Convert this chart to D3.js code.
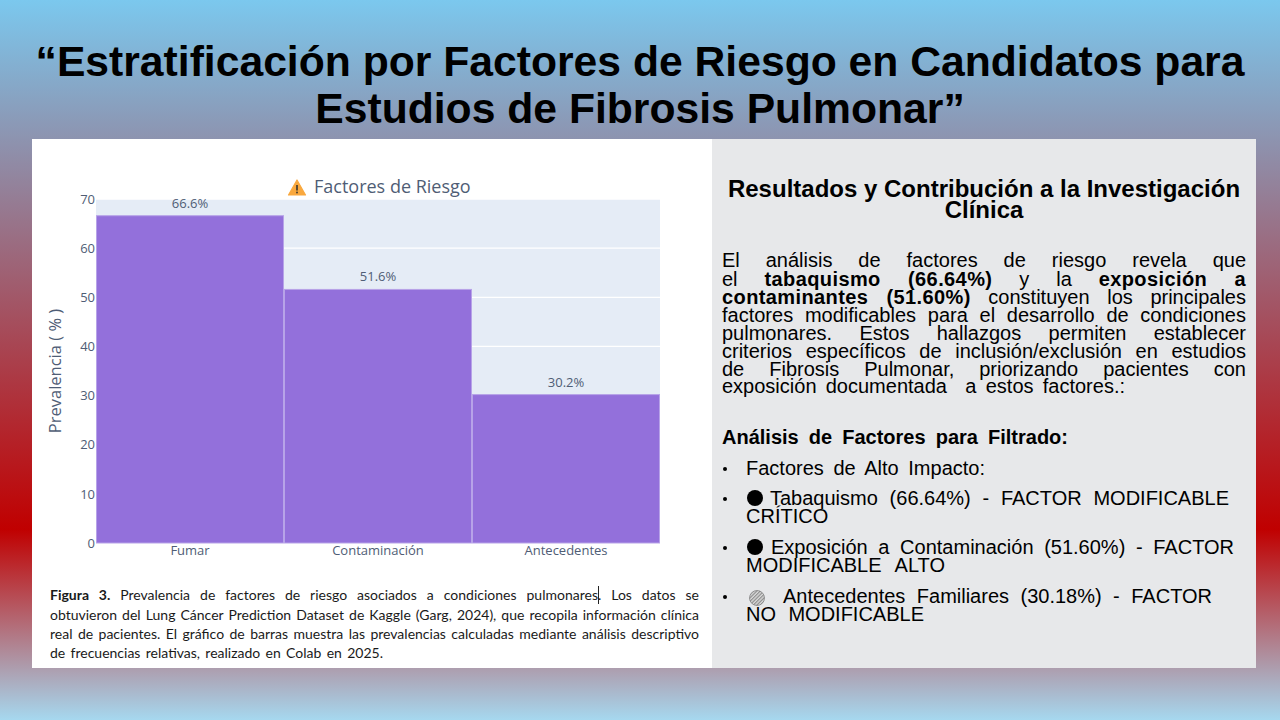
<!DOCTYPE html>
<html><head><meta charset="utf-8">
<script src="https://cdn.jsdelivr.net/npm/d3@7/dist/d3.min.js"></script>
<style>html,body{margin:0;padding:0;background:#fff}svg{display:block}</style>
</head><body><svg id="c" width="1280" height="720"></svg>
<script>
const categories = ["Fumar", "Contaminación", "Antecedentes"];
const prevalence = [66.6, 51.6, 30.2];
const barLabels = ["66.6%", "51.6%", "30.2%"];
const yTicks = [0, 10, 20, 30, 40, 50, 60, 70];
const slideTitle = ["“Estratificación por Factores de Riesgo en Candidatos para", "Estudios de Fibrosis Pulmonar”"];
const chartTitle = "Factores de Riesgo";
const yAxisTitle = "Prevalencia ( % )";
const sideHeading = ["Resultados y Contribución a la Investigación", "Clínica"];
const paragraph = [
  [["El análisis de factores de riesgo revela que",0]],
  [["el ",0],["tabaquismo (66.64%)",1],[" y la ",0],["exposición a",1]],
  [["contaminantes (51.60%)",1],[" constituyen los principales",0]],
  [["factores modificables para el desarrollo de condiciones",0]],
  [["pulmonares. Estos hallazgos permiten establecer",0]],
  [["criterios específicos de inclusión/exclusión en estudios",0]],
  [["de Fibrosis Pulmonar, priorizando pacientes con",0]],
  [["exposición documentada  a estos factores.:",0]]
];
const analysisHeading = "Análisis de Factores para Filtrado:";
const bullets = [
  ["Factores de Alto Impacto:"],
  ["Tabaquismo (66.64%) - FACTOR MODIFICABLE", "CRÍTICO"],
  ["Exposición a Contaminación (51.60%) - FACTOR", "MODIFICABLE ALTO"],
  ["Antecedentes Familiares (30.18%) - FACTOR", "NO MODIFICABLE"]
];
const caption = [
  [["Figura 3.",1],[" Prevalencia de factores de riesgo asociados a condiciones pulmonares. Los datos se",0]],
  [["obtuvieron del Lung Cáncer Prediction Dataset de Kaggle (Garg, 2024), que recopila información clínica",0]],
  [["real de pacientes. El gráfico de barras muestra las prevalencias calculadas mediante análisis descriptivo",0]],
  [["de frecuencias relativas, realizado en Colab en 2025.",0]]
];

const svg = d3.select("#c");
const defs = svg.append("defs");
const g = defs.append("linearGradient").attr("id","bg").attr("x1",0).attr("x2",0).attr("y1",0).attr("y2",1);
[[0,"#7bc8ee"],[0.735,"#c00000"],[1,"#a6d8ef"]].forEach(s=>g.append("stop").attr("offset",s[0]).attr("stop-color",s[1]));
const hatch = defs.append("pattern").attr("id","hatch").attr("width",2.5).attr("height",2.5)
  .attr("patternUnits","userSpaceOnUse").attr("patternTransform","rotate(45)");
hatch.append("rect").attr("width",2.5).attr("height",2.5).attr("fill","#d8d8d8");
hatch.append("rect").attr("width",1.1).attr("height",2.5).attr("fill","#8a8a8a");

svg.append("rect").attr("width",1280).attr("height",720).attr("fill","url(#bg)");
svg.append("rect").attr("x",32).attr("y",139).attr("width",680).attr("height",529).attr("fill","#fff");
svg.append("rect").attr("x",712).attr("y",139).attr("width",544).attr("height",529).attr("fill","#e7e8ea");

const SANS = "'Liberation Sans',Arial,sans-serif";
const PLOT = "'Open Sans',sans-serif";
const CAP = "Lato,sans-serif";

svg.selectAll("text.t").data(slideTitle).join("text").attr("class","t")
  .attr("x",640).attr("y",(d,i)=>75.5+i*47.5).attr("text-anchor","middle")
  .attr("font-family",SANS).attr("font-weight",700).attr("font-size",42.67).attr("fill","#000").text(d=>d);

// Chart
const x = d3.scaleBand().domain(categories).range([96,660]).padding(0);
const y = d3.scaleLinear().domain([0,70]).range([543,199]);
const plot = svg.append("g");
plot.append("rect").attr("x",96).attr("y",y(70)).attr("width",564).attr("height",y(0)-y(70)).attr("fill","#e5ecf6");
plot.selectAll("line.grid").data(yTicks).join("line").attr("class","grid")
  .attr("x1",96).attr("x2",660).attr("y1",d=>y(d)).attr("y2",d=>y(d)).attr("stroke","#fff").attr("stroke-width",1.3);
plot.selectAll("rect.bar").data(prevalence).join("rect").attr("class","bar")
  .attr("x",(d,i)=>x(categories[i])+0.5).attr("y",d=>y(d)).attr("width",x.bandwidth()-1).attr("height",d=>y(0)-y(d))
  .attr("fill","#9370db").attr("stroke","#b7a3e8").attr("stroke-width",1);
plot.selectAll("text.v").data(prevalence).join("text").attr("class","v")
  .attr("x",(d,i)=>x(categories[i])+x.bandwidth()/2).attr("y",d=>y(d)-8)
  .attr("text-anchor","middle").attr("font-family",PLOT).attr("font-size",13).attr("fill","#4f5d75").text((d,i)=>barLabels[i]);

const yAxis = d3.axisLeft(y).tickValues(yTicks).tickSize(0).tickPadding(1);
const ya = svg.append("g").attr("transform","translate(96,0)").call(yAxis);
ya.select(".domain").remove();
ya.selectAll("text").attr("font-family",PLOT).attr("font-size",13).attr("fill","#4f5d75");
const xAxis = d3.axisBottom(x).tickSize(0).tickPadding(3);
const xa = svg.append("g").attr("transform","translate(0,543)").call(xAxis);
xa.select(".domain").remove();
xa.selectAll("text").attr("font-family",PLOT).attr("font-size",13).attr("fill","#4f5d75");

svg.append("text").attr("transform","translate(61,371) rotate(-90)").attr("text-anchor","middle")
  .attr("font-family",PLOT).attr("font-size",16.5).attr("fill","#4f5d75").text(yAxisTitle);
svg.append("text").attr("x",314).attr("y",193).attr("font-family",PLOT).attr("font-size",18).attr("fill","#4f5d75").text(chartTitle);
// warning icon
const icon = svg.append("g").attr("transform","translate(297,188)");
icon.append("path").attr("d",d3.line()([[0,-8],[8.5,7],[-8.5,7]])+"Z").attr("fill","#f9a83e").attr("stroke","#f9a83e").attr("stroke-width",1.2).attr("stroke-linejoin","round");
icon.append("rect").attr("x",-0.9).attr("y",-3).attr("width",1.8).attr("height",5.5).attr("fill","#4a4030");
icon.append("circle").attr("cy",4.5).attr("r",1).attr("fill","#4a4030");

// text helper: fits a line from x0 to x1 by adjusting word spacing
function fitLine(segs, x0, yy, x1, size, family, fill, boldTrack) {
  const t = svg.append("text").attr("x",x0).attr("y",yy).attr("font-family",family).attr("font-size",size)
    .attr("fill",fill||"#000").attr("xml:space","preserve").style("white-space","pre");
  segs.forEach(s=>t.append("tspan").attr("font-weight",s[1]?700:400)
    .attr("letter-spacing",s[1]&&boldTrack?boldTrack:null).text(s[0]));
  if (x1!=null) {
    const n = segs.map(s=>s[0]).join("").split(" ").length-1;
    const natural = t.node().getComputedTextLength();
    if (n>0) t.attr("word-spacing",(x1-x0-natural)/n);
  }
  return t;
}

// caption
const capEnds = [699,699,699,383];
const capY = [600,620,639,658];
caption.forEach((l,i)=>fitLine(l,50,capY[i],capEnds[i],14,CAP,"#1a1a1a"));
svg.append("line").attr("x1",598.5).attr("x2",598.5).attr("y1",586).attr("y2",604).attr("stroke","#222").attr("stroke-width",1);

// right column
svg.selectAll("text.h").data(sideHeading).join("text").attr("class","h")
  .attr("x",984).attr("y",(d,i)=>197+i*20.5).attr("text-anchor","middle")
  .attr("font-family",SANS).attr("font-weight",700).attr("font-size",24).text(d=>d);

const paraY = [266.5,285.5,303.5,321.5,339.5,357.5,375.5,393];
paragraph.forEach((l,i)=>fitLine(l,722,paraY[i],i<7?1246:1125,20,SANS,"#000",0.4));

fitLine([[analysisHeading,1]],722,444,1068,20,SANS);

const bulletY = [[475],[505,523],[554,572],[603,621]];
const bulletX = [[746,985],[770,1229,746,830],[771,1234,746,945],[783,1212,746,924]];
bullets.forEach((lines,i)=>{
  svg.append("circle").attr("cx",725).attr("cy",bulletY[i][0]-6).attr("r",2).attr("fill","#000");
  lines.forEach((ln,j)=>fitLine([[ln,0]],bulletX[i][j*2],bulletY[i][j],bulletX[i][j*2+1],20,SANS));
});
svg.append("circle").attr("cx",755).attr("cy",498).attr("r",8).attr("fill","#000");
svg.append("circle").attr("cx",755).attr("cy",547).attr("r",8).attr("fill","#000");
svg.append("circle").attr("cx",757).attr("cy",598).attr("r",7.5).attr("fill","url(#hatch)").attr("stroke","#777").attr("stroke-width",0.7);
</script></body></html>
